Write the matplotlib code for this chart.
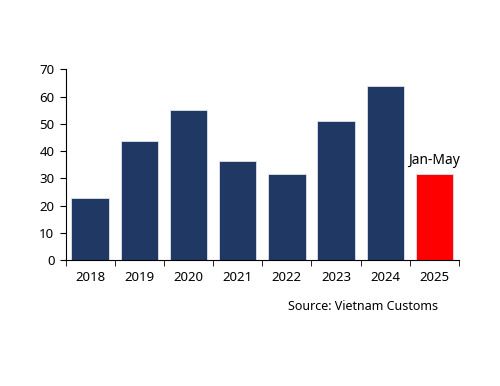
import matplotlib.pyplot as plt
import numpy as np

plt.rcParams['font.family'] = ['Noto Sans', 'DejaVu Sans']

years = ['2018', '2019', '2020', '2021', '2022', '2023', '2024', '2025']
values = [23.0, 43.9, 55.0, 36.5, 31.8, 51.2, 64.0, 31.8]
colors = ['#203864'] * 7 + ['#ff0000']

fig = plt.figure(figsize=(5, 3.86), dpi=100)
ax = fig.add_axes([0.131, 0.326, 0.787, 0.494])

x = np.arange(len(years))
ax.bar(x, values, width=0.76, color=colors, edgecolor='#dfe3ea', linewidth=0.6)

ax.set_xlim(-0.5, len(years) - 0.5)
ax.set_ylim(0, 70)
ax.set_yticks(range(0, 71, 10))
ax.set_xticks(x)
ax.set_xticklabels(years)
ax.set_xticks(np.arange(-0.5, len(years), 1), minor=True)
ax.tick_params(axis='x', which='major', length=0, pad=8)
ax.tick_params(axis='x', which='minor', length=4, direction='out')
ax.tick_params(axis='y', length=4, direction='out', pad=4)
ax.tick_params(labelsize=9.5)

for s in ['top', 'right']:
    ax.spines[s].set_visible(False)

# label above the partial-year bar
ax.text(x[-1], values[-1] + 2.0, 'Jan-May', ha='center', va='bottom', fontsize=10)

fig.text(0.726, 0.205, 'Source: Vietnam Customs', ha='center', va='center', fontsize=9)

fig.savefig('out.png', dpi=100)
